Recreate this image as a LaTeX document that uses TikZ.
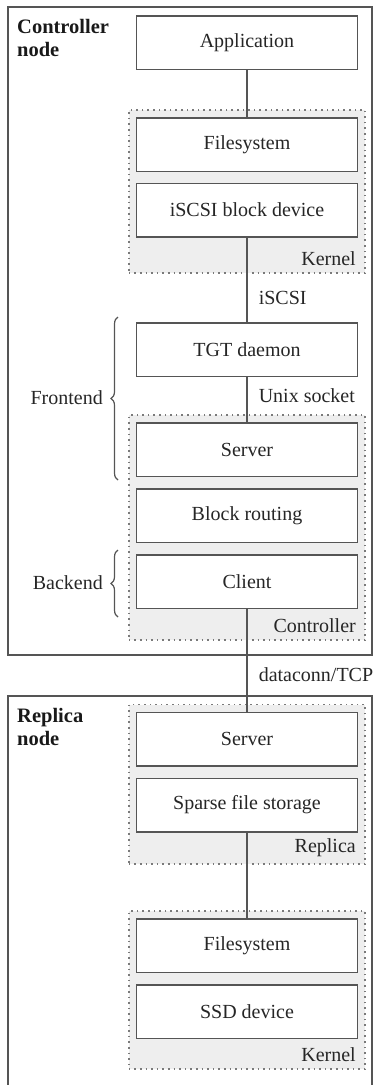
\documentclass[tikz,border=0pt]{standalone}
\usepackage{fontspec}
\setmainfont{Liberation Serif}
\usetikzlibrary{positioning, fit, backgrounds, decorations.pathreplacing}
\definecolor{linegray}{HTML}{555555}
\definecolor{dotgray}{HTML}{7A7A7A}
\definecolor{groupfill}{HTML}{EEEEEE}
\tikzstyle{layer} = [rectangle, minimum width=221pt, minimum height=53.5pt, align=center, draw=linegray, line width=1.5pt, fill=white, text=black!85, font=\fontsize{20}{23}\selectfont]
\tikzstyle{hostbox} = [draw=linegray, line width=1.5pt]
\tikzstyle{hostlabel} = [anchor=north west, align=left, inner sep=0pt, text=black!90, font=\fontsize{20.5}{23}\selectfont\bfseries]
\tikzstyle{group} = [rectangle, draw=dotgray, line width=1.6pt, dash pattern=on 1.6pt off 4pt, fill=groupfill, inner sep=7pt]
\tikzstyle{grouplabel} = [anchor=east, inner sep=0pt, text=black!85, font=\fontsize{20}{23}\selectfont]
\tikzstyle{edgelabel} = [anchor=west, inner sep=0pt, xshift=11pt, text=black!85, font=\fontsize{20}{23}\selectfont]
\tikzstyle{sidelabel} = [anchor=east, inner sep=0pt, text=black!85, font=\fontsize{20}{23}\selectfont]
\tikzstyle{connector} = [draw=linegray, line width=1.5pt]
\tikzstyle{bracket} = [draw=linegray, line width=1.2pt, decorate, decoration={brace, amplitude=7pt}]

\begin{document}
\begin{tikzpicture}[x=1pt, y=-1pt]

  \useasboundingbox (0,0) rectangle (373,1085);
  \clip (0,0) rectangle (373,1085);

  % Host boxes
  \draw[hostbox] (8,7) rectangle (372,655);
  \draw[hostbox] (8,696) rectangle (372,1110);
  \node (ctrlhost) at (17,19) [hostlabel] {Controller\\node};
  \node (replhost) at (17,708) [hostlabel] {Replica\\node};

  % Controller node stack
  \node (app) at (247,42.5) [layer] {Application};
  \node (fs1) at (247,144.5) [layer] {Filesystem};
  \node (blk) at (247,210) [layer] {iSCSI block device};
  \node (klab1) at (356,259) [grouplabel] {Kernel};

  \node (tgt) at (247,349.5) [layer] {TGT daemon};
  \node (srv1) at (247,449.5) [layer] {Server};
  \node (route) at (247,515.5) [layer] {Block routing};
  \node (client) at (247,581.5) [layer] {Client};
  \node (clab) at (356,626) [grouplabel] {Controller};

  % Replica node stack
  \node (srv2) at (247,739) [layer] {Server};
  \node (sparse) at (247,805) [layer] {Sparse file storage};
  \node (rlab) at (356,848) [grouplabel] {Replica};

  \node (fs2) at (247,945.5) [layer] {Filesystem};
  \node (ssd) at (247,1011.5) [layer] {SSD device};
  \node (klab2) at (356,1055) [grouplabel] {Kernel};

  % Connectors
  \draw[connector] (app) -- (fs1);
  \draw[connector] (blk) -- node[edgelabel, pos=0.72] {iSCSI} (tgt);
  \draw[connector] (tgt) -- node[edgelabel, pos=0.42] {Unix socket} (srv1);
  \draw[connector] (client) -- node[edgelabel, pos=0.64] {dataconn/TCP} (srv2);
  \draw[connector] (sparse) -- (fs2);

  % Braces
  \draw[bracket] (118,480) -- (118,317);
  \node (front) at (103,398) [sidelabel] {Frontend};
  \draw[bracket] (118,617) -- (118,550);
  \node (back) at (103,583) [sidelabel] {Backend};

  % Background groups
  \begin{pgfonlayer}{background}
    \node[group, fit=(fs1)(blk)(klab1)] (kernel1) {};
    \node[group, fit=(srv1)(route)(client)(clab)] (ctrlgroup) {};
    \node[group, fit=(srv2)(sparse)(rlab)] (replgroup) {};
    \node[group, fit=(fs2)(ssd)(klab2)] (kernel2) {};
  \end{pgfonlayer}

\end{tikzpicture}
\end{document}
